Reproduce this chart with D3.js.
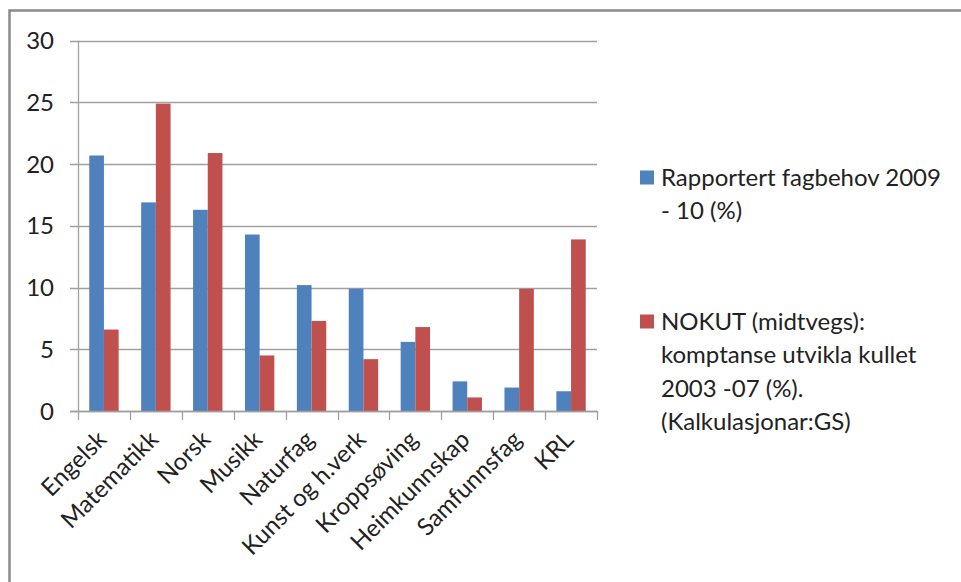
<!DOCTYPE html>
<html><head><meta charset="utf-8">
<script src="https://cdn.jsdelivr.net/npm/d3@7"></script>
<style>
html,body{margin:0;padding:0;background:#fff;}
svg{display:block;font-family:Lato, "Open Sans", sans-serif;}
</style></head>
<body><svg id="c" width="961" height="582"></svg>
<script>
const categories = ["Engelsk","Matematikk","Norsk","Musikk","Naturfag","Kunst og h.verk","Kroppsøving","Heimkunnskap","Samfunnsfag","KRL"];
const rapportert = [20.7,16.9,16.3,14.3,10.2,9.9,5.6,2.4,1.9,1.6];
const nokut = [6.6,24.9,20.9,4.5,7.3,4.2,6.8,1.1,9.9,13.9];
const yTicks = [0,5,10,15,20,25,30];
const seriesNames = [
  ["Rapportert fagbehov 2009","- 10 (%)"],
  ["NOKUT (midtvegs):","komptanse utvikla kullet","2003 -07 (%).","(Kalkulasjonar:GS)"]
];
const colors = ["#4F81BD","#C0504D"];
const FS = 24;

const svg = d3.select("#c");
// outer frame
svg.append("rect").attr("x",9.5).attr("y",10.5).attr("width",1000).attr("height",1000)
  .attr("fill","none").attr("stroke","#8a8a8a").attr("stroke-width",2.5);

const x0 = 78, x1 = 597, yTop = 40.7, yBot = 411;
const x = d3.scaleBand().domain(categories).range([x0,x1]).paddingInner(0).paddingOuter(0);
const y = d3.scaleLinear().domain([0,30]).range([yBot,yTop]);
const groupW = x.bandwidth()*0.566;
const xs = d3.scaleBand().domain([0,1]).range([0,groupW]);

// gridlines
svg.append("g").selectAll("line").data(yTicks).join("line")
  .attr("x1",70).attr("x2",x1).attr("y1",d=>Math.round(y(d))+0.5).attr("y2",d=>Math.round(y(d))+0.5)
  .attr("stroke","#a0a0a0").attr("stroke-width",1.3);
// y axis line
svg.append("line").attr("x1",x0+0.5).attr("x2",x0+0.5).attr("y1",yTop).attr("y2",yBot)
  .attr("stroke","#a0a0a0").attr("stroke-width",1.3);
// y labels
svg.append("g").selectAll("text").data(yTicks).join("text")
  .attr("x",54).attr("y",d=>y(d)).attr("dy","0.36em").attr("text-anchor","end")
  .attr("font-size",FS).attr("fill","#222").text(d=>d);

// bars
const data = [rapportert, nokut];
data.forEach((vals,si)=>{
  svg.append("g").selectAll("rect").data(vals).join("rect")
    .attr("x",(d,i)=>x(categories[i]) + (x.bandwidth()-groupW)/2 + xs(si))
    .attr("width",xs.bandwidth())
    .attr("y",d=>y(d)).attr("height",d=>yBot-y(d))
    .attr("fill",colors[si]);
});

// x axis ticks
const tickPos = categories.map(c=>x(c)).concat([x1]);
svg.append("g").selectAll("line").data(tickPos).join("line")
  .attr("x1",d=>Math.round(d)+0.5).attr("x2",d=>Math.round(d)+0.5).attr("y1",yBot).attr("y2",yBot+9)
  .attr("stroke","#a0a0a0").attr("stroke-width",1.3);
svg.append("line").attr("x1",70).attr("x2",x1).attr("y1",yBot+0.5).attr("y2",yBot+0.5)
  .attr("stroke","#a0a0a0").attr("stroke-width",1.3);

// x labels
svg.append("g").selectAll("text").data(categories).join("text")
  .attr("transform",d=>`translate(${x(d)+x.bandwidth()/2+4},${yBot+30}) rotate(-45)`)
  .attr("text-anchor","end").attr("font-size",FS).attr("fill","#222").text(d=>d);

// legend
const legY = [186, 330];
seriesNames.forEach((lines,si)=>{
  svg.append("rect").attr("x",640).attr("y",legY[si]-15.5).attr("width",14).attr("height",14).attr("fill",colors[si]);
  const t = svg.append("text").attr("x",661).attr("y",legY[si]).attr("font-size",FS).attr("fill","#222");
  lines.forEach((l,li)=>{
    t.append("tspan").attr("x",661).attr("y",legY[si]+li*33.3).text(l);
  });
});
</script></body></html>
